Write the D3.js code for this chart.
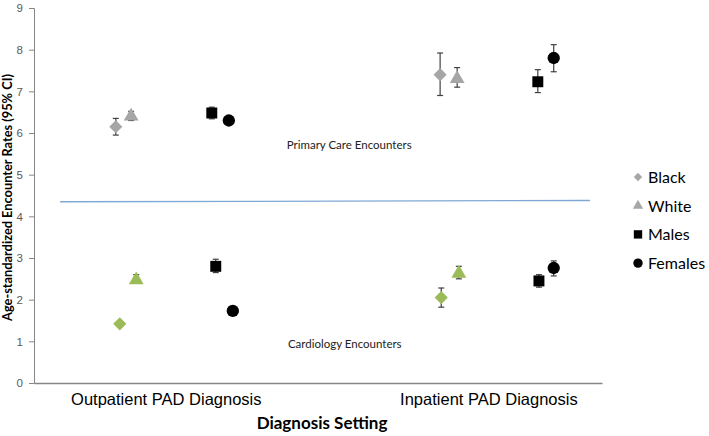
<!DOCTYPE html>
<html>
<head>
<meta charset="utf-8">
<script src="https://cdn.jsdelivr.net/npm/d3@7"></script>
<style>
  body { margin: 0; background: #fff; }
  svg { font-family: Lato, "Open Sans", sans-serif; }
</style>
</head>
<body>
<svg id="chart" width="709" height="436"></svg>
<script>
// groups along the x axis and where their labels sit (x in chart units 0-10)
var settings = ["Outpatient PAD Diagnosis", "Inpatient PAD Diagnosis"]
var settingPos = [2.32, 8.0]
var yTicks = [0, 1, 2, 3, 4, 5, 6, 7, 8, 9]

var seriesNames = ["Black", "White", "Males", "Females"]

// primary care encounters (upper cluster): x position, rate, lower CI, upper CI
var primaryX = {Black: [1.44, 7.15], White: [1.71, 7.45], Males: [3.13, 8.87], Females: [3.43, 9.15]}
var primaryRate = {Black: [6.15, 7.40], White: [6.40, 7.30], Males: [6.48, 7.23], Females: [6.30, 7.80]}
var primaryLo = {Black: [5.95, 6.90], White: [6.30, 7.10], Males: [6.34, 6.97], Females: [6.22, 7.47]}
var primaryHi = {Black: [6.35, 7.92], White: [6.52, 7.57], Males: [6.62, 7.52], Females: [6.38, 8.12]}

// cardiology encounters (lower cluster)
var cardioX = {Black: [1.51, 7.17], White: [1.80, 7.48], Males: [3.20, 8.89], Females: [3.50, 9.15]}
var cardioRate = {Black: [1.42, 2.05], White: [2.47, 2.63], Males: [2.80, 2.45], Females: [1.73, 2.76]}
var cardioLo = {Black: [1.38, 1.82], White: [2.40, 2.50], Males: [2.65, 2.30], Females: [1.70, 2.57]}
var cardioHi = {Black: [1.46, 2.28], White: [2.60, 2.80], Males: [2.97, 2.60], Females: [1.76, 2.93]}

// divider line between the two clusters
var dividerX = [0.46, 9.79]
var dividerY = [4.35, 4.38]

var dimensions = {
    width: 709,
    height: 436,
    margin: {top: 8, left: 34, right: 107, bottom: 53}
}
var plotRight = dimensions.width - dimensions.margin.right
var plotBottom = dimensions.height - dimensions.margin.bottom

var svg = d3.select("#chart")

var xScale = d3.scaleLinear()
               .domain([0, 10])
               .range([dimensions.margin.left, plotRight])

var yScale = d3.scaleLinear()
               .domain([0, 9])
               .range([plotBottom, dimensions.margin.top])

var shapes = {
    Black: d3.symbol().type(d3.symbolDiamond2).size(110),
    White: d3.symbol().type(d3.symbolTriangle).size(95),
    Males: d3.symbol().type(d3.symbolSquare).size(120),
    Females: d3.symbol().type(d3.symbolCircle).size(120)
}
var primaryFill = {Black: "#a6a6a6", White: "#a6a6a6", Males: "#000000", Females: "#000000"}
var cardioFill = {Black: "#9bbb59", White: "#9bbb59", Males: "#000000", Females: "#000000"}

// y axis
var yAxis = svg.append("g")
               .attr("transform", "translate(" + dimensions.margin.left + ",0)")
               .call(d3.axisLeft(yScale).tickValues(yTicks).tickSize(5).tickPadding(6))
yAxis.select(".domain").attr("stroke", "#868686")
yAxis.selectAll(".tick line").attr("stroke", "#868686")
yAxis.selectAll(".tick text").attr("fill", "#595959").style("font-size", "11.5px")

// x axis line
var xAxis = svg.append("g")
               .attr("transform", "translate(0," + plotBottom + ")")
               .call(d3.axisBottom(xScale).tickValues(settingPos).tickSize(0).tickPadding(10)
                       .tickFormat((d, i) => settings[i]))
xAxis.select(".domain").attr("stroke", "#868686").attr("stroke-width", 1.5)
xAxis.selectAll(".tick text").attr("fill", "#000").style("font-size", "16.5px")

// axis titles
svg.append("text")
   .attr("transform", "translate(12," + (dimensions.margin.top + plotBottom + 4) / 2 + ") rotate(-90)")
   .attr("text-anchor", "middle")
   .style("font-size", "12.8px")
   .style("font-weight", "bold")
   .text("Age-standardized Encounter Rates (95% CI)")

svg.append("text")
   .attr("x", 322)
   .attr("y", 429)
   .attr("text-anchor", "middle")
   .style("font-size", "17px")
   .style("font-weight", "bold")
   .text("Diagnosis Setting")

// divider
svg.append("line")
   .attr("x1", xScale(dividerX[0]))
   .attr("y1", yScale(dividerY[0]))
   .attr("x2", xScale(dividerX[1]))
   .attr("y2", yScale(dividerY[1]))
   .style("stroke", "#7fa9d4")
   .style("stroke-width", 1.3)

// cluster labels
svg.append("text")
   .attr("x", xScale(4.45))
   .attr("y", yScale(5.62))
   .style("font-size", "11.5px")
   .attr("fill", "#222")
   .text("Primary Care Encounters")

svg.append("text")
   .attr("x", xScale(4.47))
   .attr("y", yScale(0.83))
   .style("font-size", "11.5px")
   .attr("fill", "#222")
   .text("Cardiology Encounters")

function drawCluster(xs, rates, los, his, fills) {
    var rows = []
    seriesNames.forEach(name => {
        xs[name].forEach((x, i) => {
            rows.push({name: name, x: x, rate: rates[name][i], lo: los[name][i], hi: his[name][i]})
        })
    })

    var g = svg.append("g")

    var bars = g.selectAll("g.err")
                .data(rows)
                .enter()
                .append("g")
                .attr("class", "err")
                .style("stroke", "#404040")
                .style("stroke-width", 1.2)
    bars.append("line")
        .attr("x1", d => xScale(d.x))
        .attr("x2", d => xScale(d.x))
        .attr("y1", d => yScale(d.lo))
        .attr("y2", d => yScale(d.hi))
    bars.append("line")
        .attr("x1", d => xScale(d.x) - 3)
        .attr("x2", d => xScale(d.x) + 3)
        .attr("y1", d => yScale(d.lo))
        .attr("y2", d => yScale(d.lo))
    bars.append("line")
        .attr("x1", d => xScale(d.x) - 3)
        .attr("x2", d => xScale(d.x) + 3)
        .attr("y1", d => yScale(d.hi))
        .attr("y2", d => yScale(d.hi))

    g.selectAll("path.pt")
     .data(rows)
     .enter()
     .append("path")
     .attr("class", "pt")
     .attr("d", d => shapes[d.name]())
     .attr("transform", d => "translate(" + xScale(d.x) + "," + yScale(d.rate) + ")")
     .style("fill", d => fills[d.name])
}

drawCluster(primaryX, primaryRate, primaryLo, primaryHi, primaryFill)
drawCluster(cardioX, cardioRate, cardioLo, cardioHi, cardioFill)

// legend
var legendSymbols = {
    Black: d3.symbol().type(d3.symbolDiamond2).size(45),
    White: d3.symbol().type(d3.symbolTriangle).size(45),
    Males: d3.symbol().type(d3.symbolSquare).size(70),
    Females: d3.symbol().type(d3.symbolCircle).size(70)
}
var legend = svg.append("g")
                .selectAll("g")
                .data(seriesNames)
                .enter()
                .append("g")
                .attr("transform", (d, i) => "translate(638," + (177 + i * 28.7) + ")")
legend.append("path")
      .attr("d", d => legendSymbols[d]())
      .style("fill", d => primaryFill[d])
legend.append("text")
      .attr("x", 10)
      .attr("y", 6)
      .style("font-size", "16px")
      .text(d => d)
</script>
</body>
</html>
